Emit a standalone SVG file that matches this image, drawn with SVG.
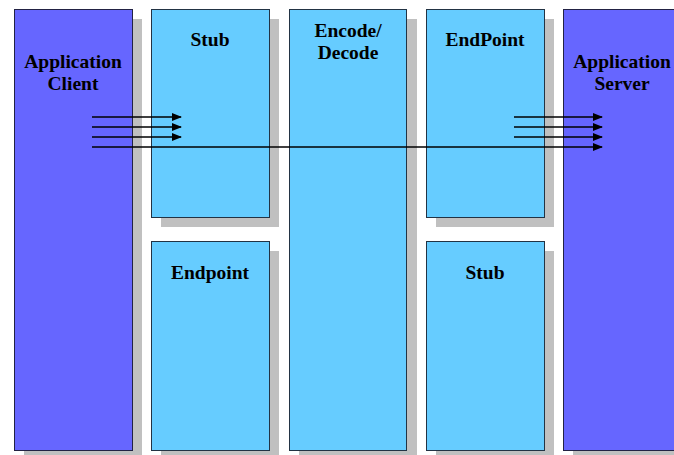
<svg xmlns="http://www.w3.org/2000/svg" width="674" height="455" viewBox="0 0 674 455">
<style>
.sh{fill:#c0c0c0}
.dark{fill:#6666ff;stroke:#222244;stroke-width:1}
.light{fill:#66ccff;stroke:#223344;stroke-width:1}
text{font-family:"Liberation Serif","Times New Roman",serif;font-weight:bold;font-size:19.5px;text-anchor:middle;fill:#000}
.c{stroke:#000;stroke-width:1.6;fill:none}
</style>
<defs>
<marker id="ah" markerWidth="10" markerHeight="8" refX="9" refY="4" orient="auto" markerUnits="userSpaceOnUse">
<path d="M0,0 L10,4 L0,8 Z" fill="#000"/>
</marker>
</defs>
<rect width="674" height="455" fill="#fff"/>
<g id="client">
<rect class="sh" x="24" y="19" width="118" height="436"/>
<rect class="dark" x="14.5" y="9.5" width="118" height="441"/>
<text x="73" y="68">Application</text>
<text x="73" y="90">Client</text>
</g>
<g id="stub-top">
<rect class="sh" x="161" y="19" width="118" height="208"/>
<rect class="light" x="151.5" y="9.5" width="118" height="208"/>
<text x="210" y="46">Stub</text>
</g>
<g id="endpoint-bottom">
<rect class="sh" x="161" y="251" width="118" height="204"/>
<rect class="light" x="151.5" y="241.5" width="118" height="209"/>
<text x="210" y="279">Endpoint</text>
</g>
<g id="encode">
<rect class="sh" x="299" y="19" width="118" height="436"/>
<rect class="light" x="289.5" y="9.5" width="117" height="441"/>
<text x="348" y="37">Encode/</text>
<text x="348" y="59">Decode</text>
</g>
<g id="endpoint-top">
<rect class="sh" x="436" y="19" width="118" height="208"/>
<rect class="light" x="426.5" y="9.5" width="118" height="208"/>
<text x="485" y="46">EndPoint</text>
</g>
<g id="stub-bottom">
<rect class="sh" x="436" y="251" width="118" height="204"/>
<rect class="light" x="426.5" y="241.5" width="118" height="209"/>
<text x="485" y="279">Stub</text>
</g>
<g id="server">
<rect class="sh" x="573" y="19" width="118" height="436"/>
<rect class="dark" x="563.5" y="9.5" width="118" height="441"/>
<text x="622" y="68">Application</text>
<text x="622" y="90">Server</text>
</g>
<g id="connectors">
<line class="c" x1="92" y1="117" x2="181" y2="117" marker-end="url(#ah)"/>
<line class="c" x1="92" y1="127" x2="181" y2="127" marker-end="url(#ah)"/>
<line class="c" x1="92" y1="137" x2="181" y2="137" marker-end="url(#ah)"/>
<line class="c" x1="92" y1="147" x2="602" y2="147" marker-end="url(#ah)"/>
<line class="c" x1="514" y1="117" x2="602" y2="117" marker-end="url(#ah)"/>
<line class="c" x1="514" y1="127" x2="602" y2="127" marker-end="url(#ah)"/>
<line class="c" x1="514" y1="137" x2="602" y2="137" marker-end="url(#ah)"/>
</g>
</svg>
